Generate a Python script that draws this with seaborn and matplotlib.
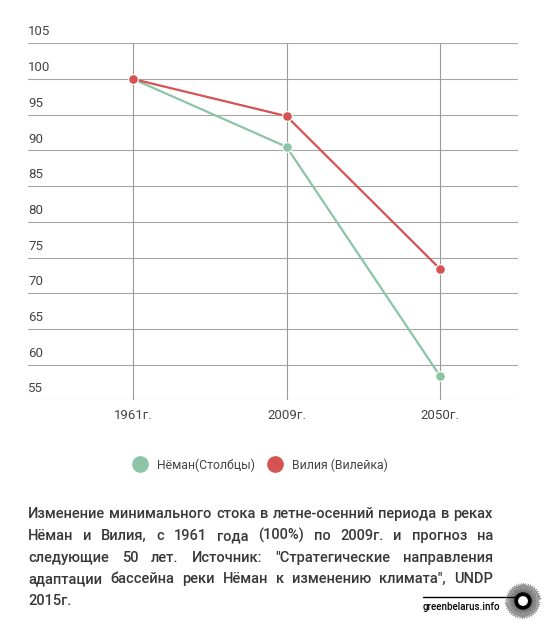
import numpy as np
import pandas as pd
import seaborn as sns
import matplotlib.pyplot as plt
import matplotlib.transforms as mtransforms
from matplotlib.lines import Line2D

years = ['1961г.', '2009г.', '2050г.']
neman = [100, 90.5, 58.4]
viliya = [100, 94.8, 73.4]
series_names = ['Нёман(Столбцы)', 'Вилия (Вилейка)']
y_ticks = [55, 60, 65, 70, 75, 80, 85, 90, 95, 100, 105]

caption_lines = [
    'Изменение минимального стока в летне-осенний периода в реках',
    'Нёман и Вилия, с 1961 года (100%) по 2009г. и прогноз на',
    'следующие 50 лет. Источник: "Стратегические направления',
    'адаптации бассейна реки Нёман к изменению климата", UNDP',
    '2015г.',
]

green = '#8ec4a6'
red = '#d65353'

df = pd.DataFrame({
    'year': years * 2,
    'value': neman + viliya,
    'river': [series_names[0]] * 3 + [series_names[1]] * 3,
})

sns.set_style('white')
plt.rcParams['font.family'] = ['Roboto', 'DejaVu Sans']

W, H = 548, 628
fig = plt.figure(figsize=(W / 100, H / 100), dpi=100)
fig.patch.set_facecolor('white')
ax = fig.add_axes([28 / W, 1 - 400.3 / H, (518 - 28) / W, (400.3 - 43.3) / H])

sns.lineplot(data=df, x='year', y='value', hue='river', palette=[green, red],
             marker='o', markersize=7, markeredgecolor='white', markeredgewidth=0.8,
             linewidth=1.6, sort=False, legend=False, ax=ax, zorder=3)

ax.set_ylim(55, 105)
ax.set_xlim(-0.684, 2.508)
for v in y_ticks:
    ax.axhline(v, color='#a6a6a6', linewidth=0.8, zorder=1)
for i in range(len(years)):
    ax.axvline(i, color='#9a9a9a', linewidth=0.8, zorder=1)
for s in ax.spines.values():
    s.set_visible(False)

ax.set_yticks([])
ax.set_xticks(range(len(years)))
ax.set_xticklabels(years)
ax.tick_params(axis='x', length=0, pad=6, labelsize=9.5, labelcolor='#444444')
ax.set_xlabel('')
ax.set_ylabel('')

# y labels sit above their gridlines, left aligned
trans = mtransforms.blended_transform_factory(ax.transAxes, ax.transData)
offset = mtransforms.ScaledTranslation(0, 3.5 / 72, fig.dpi_scale_trans)
for v in y_ticks:
    ax.text(0, v, str(v), transform=trans + offset, ha='left', va='bottom',
            fontsize=9.5, color='#444444')

# legend
handles = [Line2D([], [], marker='o', linestyle='', markersize=11, color=c)
           for c in (green, red)]
fig.legend(handles, series_names, loc='center', bbox_to_anchor=(258 / W, 1 - 465 / H),
           ncol=2, frameon=False, fontsize=8.8, handletextpad=0.4, columnspacing=0.6,
           labelcolor='#444444')

# justified caption
fig.canvas.draw()
renderer = fig.canvas.get_renderer()
x_left, x_right = 28, 493
baselines = [518, 540, 562, 583, 605]
for j, line in enumerate(caption_lines):
    words = line.split(' ')
    texts = [fig.text(0, 0, w, fontsize=10.5, fontweight='medium', color='#383838',
                      va='baseline', ha='left') for w in words]
    widths = [t.get_window_extent(renderer).width for t in texts]
    last = j == len(caption_lines) - 1
    if last or len(words) == 1:
        gap = renderer.points_to_pixels(10.5) * 0.28
    else:
        gap = (x_right - x_left - sum(widths)) / (len(words) - 1)
    x = x_left
    for t, w in zip(texts, widths):
        t.set_position((x / W, 1 - baselines[j] / H))
        x += w + gap

# site mark
cx, cy = 523, 601
mark = fig.add_axes([(cx - 22) / W, 1 - (cy + 22) / H, 44 / W, 44 / H])
mark.set_xlim(-22, 22)
mark.set_ylim(-22, 22)
mark.set_aspect('equal')
mark.axis('off')
for a in np.linspace(0, 2 * np.pi, 90, endpoint=False):
    r1 = 8
    r2 = 16 + 2.5 * ((a * 7) % 1.0)
    mark.plot([r1 * np.cos(a), r2 * np.cos(a)], [r1 * np.sin(a), r2 * np.sin(a)],
              color='#222222', linewidth=0.35)
mark.add_patch(plt.Circle((0, 0), 8, color='black', zorder=3))
mark.add_patch(plt.Circle((0, 0), 4.2, color='white', zorder=4))
fig.add_artist(Line2D([423 / W, (cx - 8) / W], [1 - 597 / H, 1 - 597 / H],
                      color='black', linewidth=1.0))
fig.text(423 / W, 1 - 610 / H, 'greenbelarus.info', fontsize=7, fontweight='medium',
         family=['Liberation Sans Narrow', 'Roboto', 'DejaVu Sans'], color='black',
         va='baseline')

fig.savefig('out.png', dpi=100, facecolor='white')
